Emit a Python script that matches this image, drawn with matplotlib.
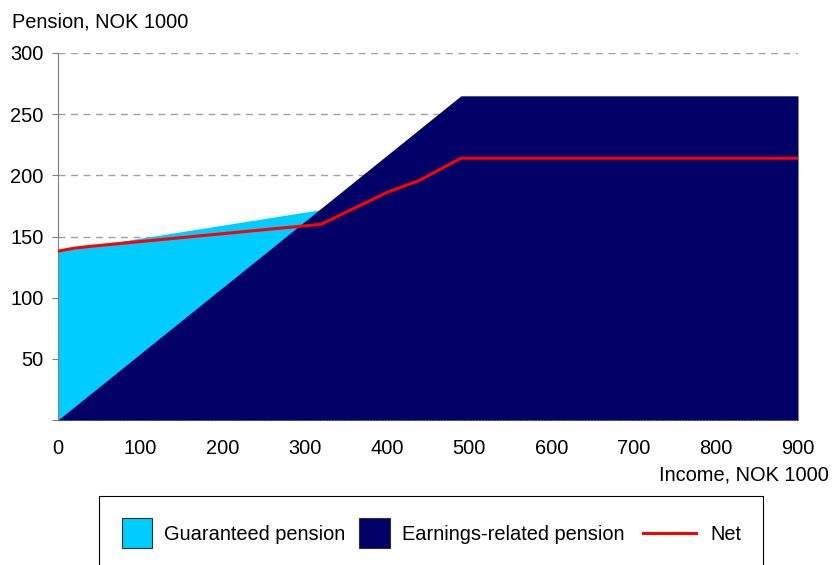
import matplotlib
matplotlib.use("Agg")
import matplotlib.pyplot as plt
from matplotlib.patches import Rectangle

plt.rcParams['font.family'] = ['Liberation Sans', 'DejaVu Sans']

# Data (income in NOK 1000, pension in NOK 1000)
guar_income = [0, 320]
guar_total = [138, 172]
earn_income = [0, 490, 900]
earn_pension = [0, 265, 265]
net_income = [0, 20, 40, 320, 400, 440, 490, 900]
net_pension = [138, 140.5, 142, 160, 186, 196, 214, 214]
yticks = [0, 50, 100, 150, 200, 250, 300]
ytick_labels = ['', '50', '100', '150', '200', '250', '300']
xticks = [0, 100, 200, 300, 400, 500, 600, 700, 800, 900]
labels = ['Guaranteed pension', 'Earnings-related pension', 'Net']

c_guar = '#00CCFF'
c_earn = '#000066'
c_net = '#FF0000'
FS = 14.4

W, H = 832, 565
fig = plt.figure(figsize=(W / 100, H / 100), dpi=100)
ax = fig.add_axes([58 / W, 1 - 420 / H, (798 - 58) / W, (420 - 53) / H])

ax.fill_between(guar_income, 0, guar_total, color=c_guar, linewidth=0, zorder=2)
ax.fill_between(earn_income, 0, earn_pension, color=c_earn, linewidth=0, zorder=3)
ax.plot(net_income, net_pension, color=c_net, linewidth=2.2, zorder=4,
        solid_joinstyle='round')

ax.set_xlim(0, 900)
ax.set_ylim(0, 300)
ax.set_yticks(yticks)
ax.set_yticklabels(ytick_labels)
ax.set_xticks(xticks)
ax.set_xticklabels([str(v) for v in xticks])
ax.tick_params(axis='y', length=4.3, width=0.8, color='#808080', labelsize=FS, pad=6)
ax.tick_params(axis='x', length=0, labelsize=FS, pad=14)
for y in yticks[1:]:
    ax.axhline(y, color='#A0A0A0', linestyle=(0, (5, 4)), linewidth=1, zorder=1)
for s in ['top', 'right']:
    ax.spines[s].set_visible(False)
ax.spines['left'].set_color('#808080')
ax.spines['bottom'].set_color('#808080')
ax.spines['bottom'].set_linestyle(':')

fig.text(12 / W, 1 - 22 / H, 'Pension, NOK 1000', fontsize=FS, ha='left', va='center')
fig.text(829 / W, 1 - 475 / H, 'Income, NOK 1000', fontsize=FS, ha='right', va='center')

# Legend drawn in an overlay in pixel coordinates
lg = fig.add_axes([0, 0, 1, 1], zorder=5)
lg.set_xlim(0, W)
lg.set_ylim(H, 0)
lg.axis('off')
lg.add_patch(Rectangle((99, 496), 763 - 99, 80, facecolor='white',
                       edgecolor='black', linewidth=0.8, clip_on=False))
yc = 533
lg.add_patch(Rectangle((122, yc - 15), 30, 30, facecolor=c_guar,
                       edgecolor='#333333', linewidth=0.8))
lg.text(164, yc, labels[0], fontsize=FS, ha='left', va='center_baseline')
lg.add_patch(Rectangle((359, yc - 15), 31, 30, facecolor=c_earn,
                       edgecolor='#333333', linewidth=0.8))
lg.text(402, yc, labels[1], fontsize=FS, ha='left', va='center_baseline')
lg.plot([643, 696], [yc, yc], color=c_net, linewidth=2.2)
lg.text(710, yc, labels[2], fontsize=FS, ha='left', va='center_baseline')

fig.savefig('out.png', dpi=100)
